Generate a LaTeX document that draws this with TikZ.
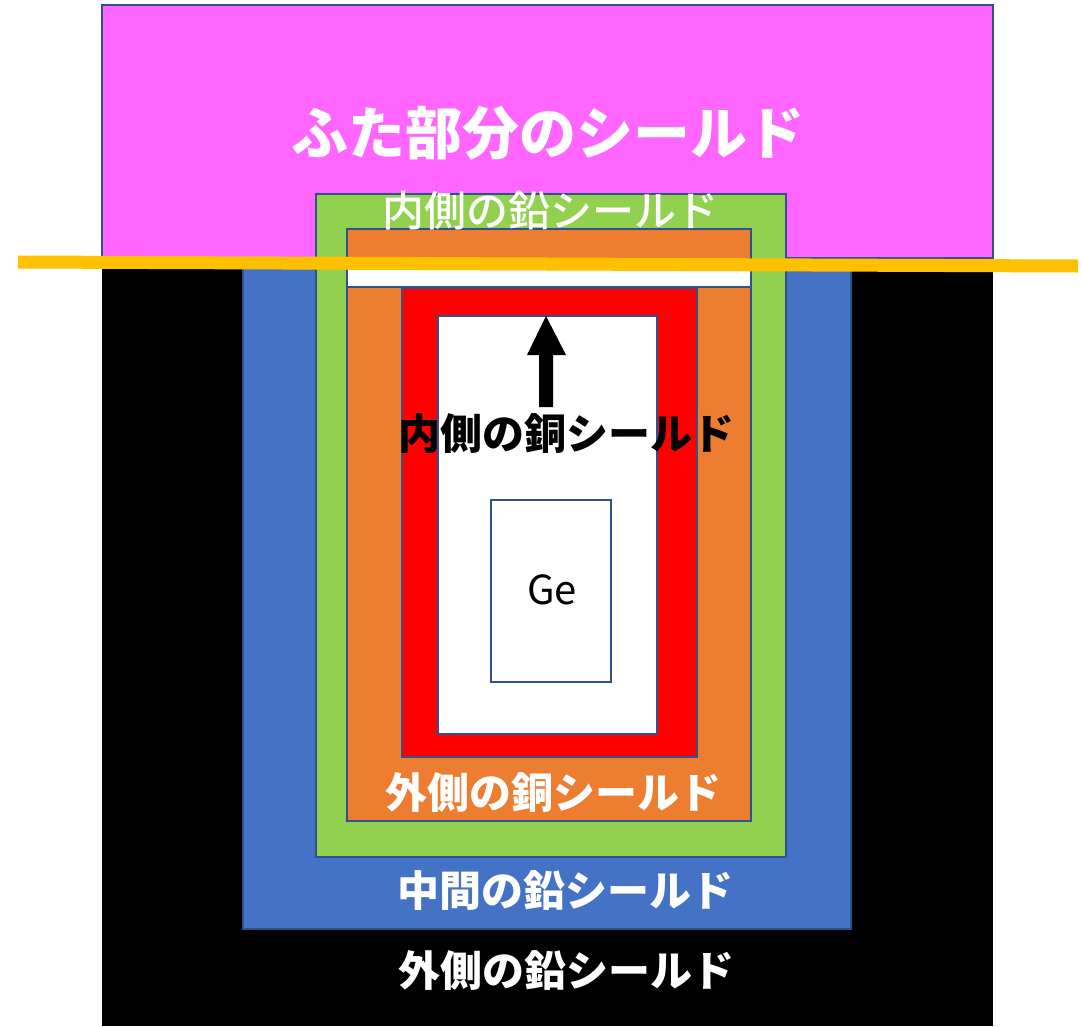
\documentclass[tikz,border=0pt]{standalone}
\usepackage{fontspec}
\setmainfont{Noto Sans CJK JP}
\newfontfamily\jpmed{Noto Sans CJK JP Medium}
\definecolor{lidpink}{HTML}{FF66FF}
\definecolor{leadblue}{HTML}{4472C4}
\definecolor{leadgreen}{HTML}{92D050}
\definecolor{copperorange}{HTML}{ED7D31}
\definecolor{copperred}{HTML}{FF0000}
\definecolor{lidline}{HTML}{FFC000}
\definecolor{edgeblue}{HTML}{2F528F}
\tikzset{
  layer/.style={draw=edgeblue, line width=1.5pt},
  bigtext/.style={text=white, font=\bfseries\fontsize{57}{60}\selectfont, inner sep=0pt},
  labtext/.style={text=white, font=\bfseries\fontsize{42}{46}\selectfont, inner sep=0pt},
}
\begin{document}
\begin{tikzpicture}[x=1pt,y=-1pt]
\useasboundingbox (0,0) rectangle (1082,1026);
% outer lead shield (black)
\fill[black] (102,5) rectangle (993,1026);
% lid shield
\draw[layer, fill=lidpink] (102,5) rectangle (993,258);
% middle lead shield
\draw[layer, fill=leadblue] (243,262) rectangle (851,929);
% inner lead shield
\draw[layer, fill=leadgreen] (316,194) rectangle (786,857);
% outer copper shield
\draw[layer, fill=copperorange] (347,229) rectangle (751,821);
% gap
\draw[layer, fill=white] (347,268) rectangle (751,287);
% inner copper shield
\draw[layer, fill=copperred] (402,288) rectangle (697,757);
% cavity
\draw[layer, fill=white] (438,316) rectangle (657,734);
% Ge detector
\node[layer, fill=white, minimum width=120pt, minimum height=182pt, inner sep=0pt] (ge) at (551,591) {};
\node[font=\fontsize{40}{44}\selectfont, inner sep=0pt] (getext) at (552,590) {Ge};
% block arrow
\fill[black] (539,407) -- (539,355) -- (527,355) -- (546,316) -- (566,355) -- (553,355) -- (553,407) -- cycle;
% labels
\node[bigtext] (lid) at (548,133) {ふた部分のシールド};
\node[text=white, font=\jpmed\fontsize{42}{46}\selectfont, inner sep=0pt] (innerlead) at (550,211) {内側の鉛シールド};
\node[labtext, text=black] (innercu) at (566,434) {内側の銅シールド};
\node[labtext] (outercu) at (553,793) {外側の銅シールド};
\node[labtext] (midlead) at (565,891) {中間の鉛シールド};
\node[labtext] (outerlead) at (566,970) {外側の鉛シールド};
% lid boundary line
\coordinate (lineL) at (18,262);
\coordinate (lineR) at (1078,266);
\draw[lidline, line width=13pt] (lineL) -- (lineR);
\end{tikzpicture}
\end{document}
